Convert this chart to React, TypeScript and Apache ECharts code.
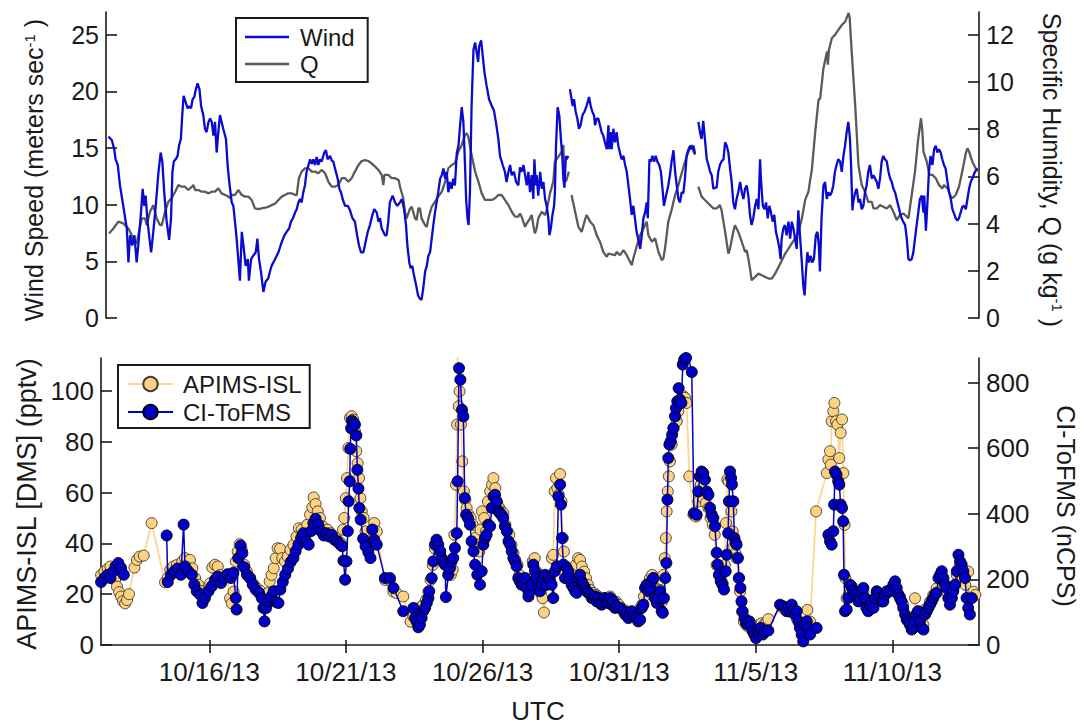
import React, { useEffect, useRef } from "react";
import * as echarts from "echarts";

// time axis: days since 10/12/13 00:00 UTC
const DAY0 = Date.UTC(2013, 9, 12);
const dateTicks = [4, 9, 14, 19, 24, 29];
const windTicks = [0, 5, 10, 15, 20, 25];
const qTicks = [0, 2, 4, 6, 8, 10, 12];
const dmsTicks = [0, 20, 40, 60, 80, 100];
const cpsTicks = [0, 200, 400, 600, 800];

type P = [number, number | null];

const wind: P[] = [[0.31,16.0],[0.43,15.7],[0.52,14.9],[0.57,14.0],[0.65,13.5],[0.73,11.7],[0.85,9.9],[0.98,7.9],[1.04,4.9],[1.10,7.3],[1.18,6.4],[1.26,7.3],[1.34,4.9],[1.40,6.4],[1.50,9.3],[1.56,11.4],[1.62,9.9],[1.67,10.8],[1.74,8.5],[1.81,7.0],[1.87,5.8],[1.95,7.6],[2.04,9.9],[2.14,12.9],[2.22,14.6],[2.28,13.8],[2.35,11.1],[2.44,8.5],[2.53,6.9],[2.60,8.8],[2.65,12.9],[2.70,13.8],[2.77,14.0],[2.84,14.3],[2.89,15.2],[2.96,15.8],[3.01,17.9],[3.06,19.6],[3.14,19.0],[3.21,18.5],[3.27,18.7],[3.33,18.5],[3.39,19.3],[3.45,19.5],[3.51,20.2],[3.57,20.7],[3.64,20.2],[3.70,18.7],[3.78,17.9],[3.84,16.7],[3.90,16.4],[3.97,17.3],[4.03,17.6],[4.09,17.3],[4.15,16.1],[4.21,17.3],[4.27,14.6],[4.33,16.4],[4.39,17.9],[4.45,17.3],[4.51,16.7],[4.61,15.8],[4.67,13.5],[4.73,12.0],[4.82,10.2],[4.88,9.9],[4.94,8.5],[5.00,7.0],[5.06,5.2],[5.12,3.3],[5.19,7.6],[5.25,6.4],[5.33,4.6],[5.41,5.2],[5.45,3.3],[5.53,5.2],[5.61,5.5],[5.70,5.8],[5.76,7.0],[5.82,5.2],[5.89,4.1],[5.98,2.3],[6.06,3.2],[6.16,3.5],[6.22,4.1],[6.28,4.6],[6.41,5.2],[6.53,5.8],[6.65,6.7],[6.75,7.3],[6.83,7.6],[6.92,7.9],[6.99,8.5],[7.06,8.8],[7.14,9.3],[7.20,9.6],[7.26,10.2],[7.32,10.5],[7.38,10.2],[7.44,11.1],[7.50,11.7],[7.56,12.9],[7.63,13.5],[7.69,14.0],[7.75,13.6],[7.81,14.0],[7.87,13.5],[7.93,14.2],[7.99,13.5],[8.05,14.0],[8.11,13.8],[8.21,14.6],[8.27,14.8],[8.33,14.0],[8.42,14.3],[8.48,13.9],[8.54,13.8],[8.60,13.2],[8.70,12.3],[8.76,11.4],[8.82,11.1],[8.88,10.5],[8.97,9.9],[9.07,9.9],[9.15,9.5],[9.24,8.8],[9.33,8.5],[9.41,7.3],[9.48,6.4],[9.55,5.8],[9.64,5.8],[9.72,6.7],[9.80,7.6],[9.88,8.2],[9.97,9.1],[10.04,9.6],[10.13,9.3],[10.19,8.5],[10.25,8.8],[10.31,7.9],[10.37,7.6],[10.43,7.3],[10.49,7.3],[10.55,8.5],[10.61,10.2],[10.71,10.8],[10.80,10.2],[10.88,9.9],[10.98,10.2],[11.05,10.5],[11.13,9.6],[11.20,8.2],[11.25,6.4],[11.32,4.9],[11.37,4.4],[11.43,4.6],[11.49,3.8],[11.57,2.9],[11.64,2.0],[11.71,1.7],[11.77,1.6],[11.83,2.6],[11.90,4.1],[11.96,4.6],[12.02,5.5],[12.08,5.8],[12.14,7.0],[12.20,8.2],[12.26,9.3],[12.32,10.2],[12.38,11.1],[12.45,12.3],[12.51,12.6],[12.57,13.2],[12.63,12.3],[12.69,12.9],[12.75,11.1],[12.81,12.0],[12.87,11.4],[12.93,12.3],[12.99,11.7],[13.06,14.6],[13.12,15.2],[13.18,17.0],[13.24,18.6],[13.30,17.3],[13.36,13.5],[13.40,10.5],[13.45,8.8],[13.49,8.2],[13.54,11.1],[13.60,18.7],[13.67,23.7],[13.73,24.3],[13.79,23.4],[13.84,22.6],[13.88,24.0],[13.95,24.5],[14.01,23.1],[14.07,21.7],[14.15,20.5],[14.24,19.3],[14.34,18.7],[14.42,18.3],[14.49,17.3],[14.58,15.8],[14.64,14.3],[14.74,13.5],[14.82,12.9],[14.88,12.0],[14.95,12.9],[15.01,13.5],[15.07,12.6],[15.15,12.9],[15.23,12.0],[15.31,11.7],[15.37,13.3],[15.43,12.9],[15.50,13.5],[15.56,12.6],[15.62,11.7],[15.68,12.9],[15.74,11.1],[15.80,12.6],[15.86,10.5],[15.90,14.0],[15.95,11.7],[15.98,12.6],[16.04,10.8],[16.11,12.9],[16.17,11.4],[16.23,12.0],[16.29,10.5],[16.35,9.9],[16.41,8.8],[16.45,7.3],[16.50,7.9],[16.56,9.1],[16.62,9.9],[16.65,11.1],[16.69,15.2],[16.75,18.6],[16.81,17.9],[16.87,15.8],[16.92,14.3],[16.96,12.3],[17.00,11.5],[17.05,14.3],[17.08,14.0],[17.14,14.3],[17.17,null],[17.20,20.2],[17.26,19.3],[17.30,18.7],[17.35,19.3],[17.41,18.2],[17.47,17.6],[17.53,16.7],[17.59,17.0],[17.66,17.9],[17.73,18.2],[17.81,18.7],[17.90,19.5],[17.96,18.7],[18.02,18.2],[18.08,17.9],[18.12,17.0],[18.18,17.6],[18.24,17.6],[18.30,17.0],[18.36,16.4],[18.42,16.1],[18.48,15.5],[18.55,14.9],[18.61,17.0],[18.64,14.9],[18.69,16.4],[18.73,14.9],[18.79,16.7],[18.85,15.5],[18.91,16.4],[18.97,15.2],[19.03,14.6],[19.09,14.0],[19.16,14.3],[19.22,13.5],[19.28,12.9],[19.34,11.7],[19.40,10.5],[19.46,9.1],[19.52,9.9],[19.58,8.8],[19.64,7.6],[19.70,7.0],[19.77,6.1],[19.83,7.3],[19.89,8.8],[19.95,9.3],[20.01,10.2],[20.05,8.8],[20.11,14.0],[20.16,13.8],[20.22,14.3],[20.28,13.8],[20.34,14.3],[20.40,13.8],[20.47,13.5],[20.53,12.9],[20.60,11.1],[20.64,9.9],[20.72,10.8],[20.80,11.7],[20.86,12.6],[20.92,13.8],[20.99,14.8],[21.05,12.9],[21.11,11.7],[21.17,10.5],[21.23,10.2],[21.29,11.1],[21.35,11.0],[21.41,12.3],[21.47,14.3],[21.54,14.9],[21.60,15.2],[21.66,14.9],[21.72,15.2],[21.78,14.5],[21.84,null],[21.90,17.3],[21.96,16.4],[22.02,15.8],[22.08,17.4],[22.14,15.8],[22.21,14.0],[22.27,13.5],[22.33,12.9],[22.39,12.6],[22.45,11.4],[22.51,11.5],[22.57,11.5],[22.63,12.9],[22.69,13.5],[22.75,13.8],[22.82,14.0],[22.88,15.5],[22.94,15.2],[23.00,14.6],[23.06,13.2],[23.12,12.0],[23.18,10.2],[23.24,9.6],[23.30,10.5],[23.36,11.1],[23.43,12.0],[23.49,11.1],[23.55,10.5],[23.61,11.4],[23.67,11.7],[23.73,10.8],[23.79,9.1],[23.85,8.2],[23.91,8.8],[23.98,9.9],[24.04,10.5],[24.10,9.6],[24.16,14.0],[24.19,12.3],[24.26,9.9],[24.32,9.6],[24.38,10.2],[24.44,8.8],[24.50,9.9],[24.56,9.3],[24.62,8.5],[24.68,9.1],[24.74,7.6],[24.80,7.0],[24.87,6.1],[24.91,5.2],[24.95,7.0],[25.01,7.9],[25.07,8.2],[25.13,7.3],[25.20,8.5],[25.26,7.0],[25.32,8.5],[25.38,7.9],[25.44,7.0],[25.50,6.1],[25.56,9.5],[25.62,7.3],[25.68,5.2],[25.74,2.9],[25.79,2.0],[25.84,4.1],[25.89,5.8],[25.95,4.9],[26.01,5.5],[26.07,4.9],[26.13,5.2],[26.20,7.3],[26.26,7.6],[26.31,6.4],[26.35,4.1],[26.41,8.8],[26.48,11.7],[26.54,12.0],[26.60,10.5],[26.66,11.1],[26.72,10.8],[26.78,11.1],[26.84,11.7],[26.90,12.9],[26.96,13.5],[27.02,14.0],[27.09,13.8],[27.15,12.9],[27.21,14.3],[27.27,15.2],[27.33,16.4],[27.39,17.3],[27.45,15.8],[27.49,13.5],[27.54,9.5],[27.57,10.2],[27.64,11.1],[27.70,11.4],[27.76,10.2],[27.82,10.5],[27.88,9.6],[27.94,9.9],[28.00,11.1],[28.06,11.7],[28.12,12.9],[28.18,13.5],[28.25,12.3],[28.31,12.6],[28.37,12.3],[28.43,12.0],[28.49,11.4],[28.55,12.3],[28.61,13.8],[28.67,14.3],[28.73,14.0],[28.80,13.8],[28.86,12.9],[28.92,12.3],[28.98,12.0],[29.04,11.4],[29.10,11.1],[29.16,10.5],[29.22,9.9],[29.28,9.3],[29.34,8.8],[29.40,8.5],[29.47,8.2],[29.53,7.0],[29.59,5.2],[29.65,5.1],[29.71,5.2],[29.77,5.8],[29.83,7.0],[29.89,8.2],[29.95,9.3],[30.01,10.5],[30.08,10.8],[30.14,9.3],[30.17,10.8],[30.23,7.7],[30.28,9.9],[30.34,12.9],[30.40,14.3],[30.47,13.5],[30.53,14.9],[30.59,15.2],[30.65,14.6],[30.71,14.9],[30.77,14.6],[30.83,14.0],[30.89,13.5],[30.95,13.2],[31.02,12.0],[31.08,11.1],[31.14,10.5],[31.20,9.6],[31.26,9.2],[31.32,8.8],[31.38,8.6],[31.44,8.8],[31.50,9.3],[31.56,9.8],[31.62,9.9],[31.69,9.6],[31.75,10.5],[31.81,11.4],[31.87,12.0],[31.93,12.3],[31.99,12.7],[32.05,13.0],[32.11,13.2]];

const q: P[] = [[0.33,3.58],[0.49,3.79],[0.67,4.08],[0.85,4.01],[1.04,3.79],[1.16,3.51],[1.28,3.16],[1.34,3.16],[1.40,3.51],[1.53,4.22],[1.65,4.22],[1.71,3.93],[1.83,4.50],[1.95,4.78],[2.07,4.22],[2.20,3.93],[2.26,3.93],[2.38,4.50],[2.50,4.92],[2.62,5.07],[2.75,5.35],[2.87,5.63],[2.99,5.56],[3.11,5.56],[3.23,5.42],[3.36,5.56],[3.42,5.63],[3.48,5.42],[3.60,5.42],[3.72,5.35],[3.84,5.35],[3.97,5.28],[4.09,5.35],[4.21,5.35],[4.33,5.49],[4.45,5.28],[4.58,5.21],[4.70,5.14],[4.76,5.07],[4.82,5.21],[4.94,5.21],[5.06,5.42],[5.19,5.21],[5.31,5.14],[5.43,5.14],[5.55,5.00],[5.67,4.64],[5.80,4.61],[5.92,4.64],[6.04,4.67],[6.16,4.71],[6.28,4.78],[6.41,4.85],[6.53,5.00],[6.65,5.14],[6.77,5.21],[6.89,5.28],[7.02,5.28],[7.14,5.21],[7.20,5.21],[7.28,5.92],[7.38,6.20],[7.50,6.34],[7.63,6.34],[7.75,6.20],[7.87,6.20],[7.99,6.13],[8.11,6.27],[8.24,6.13],[8.36,5.77],[8.48,5.56],[8.60,5.56],[8.72,5.63],[8.85,5.92],[8.97,5.92],[9.09,5.77],[9.21,5.92],[9.33,6.20],[9.46,6.48],[9.58,6.65],[9.70,6.69],[9.82,6.65],[9.94,6.55],[10.07,6.41],[10.19,6.27],[10.31,6.06],[10.37,5.63],[10.41,6.06],[10.55,6.06],[10.68,5.92],[10.80,5.92],[10.93,5.84],[10.98,5.56],[11.10,5.07],[11.16,4.50],[11.22,4.22],[11.35,4.64],[11.41,4.71],[11.53,4.22],[11.59,4.15],[11.65,4.64],[11.71,4.64],[11.77,4.22],[11.90,3.93],[11.96,3.86],[12.02,4.22],[12.14,4.71],[12.26,4.92],[12.38,5.14],[12.51,5.35],[12.63,5.77],[12.75,6.34],[12.87,6.48],[12.99,6.55],[13.12,7.05],[13.24,7.33],[13.36,7.75],[13.42,7.82],[13.48,7.68],[13.60,6.91],[13.73,6.20],[13.85,5.77],[13.97,5.28],[14.09,5.00],[14.21,5.00],[14.34,5.00],[14.46,5.07],[14.58,5.21],[14.70,5.21],[14.82,5.00],[14.95,4.78],[15.07,4.50],[15.19,4.29],[15.31,4.29],[15.37,4.43],[15.43,4.29],[15.56,3.86],[15.62,4.01],[15.74,4.22],[15.80,4.36],[15.86,3.93],[15.92,3.58],[15.98,3.79],[16.04,4.22],[16.17,4.50],[16.29,4.36],[16.35,4.57],[16.47,5.28],[16.59,5.77],[16.65,6.62],[16.78,6.83],[16.90,7.05],[16.96,7.33],[17.00,5.92],[17.05,5.77],[17.11,5.99],[17.16,6.20],[17.21,null],[17.26,5.21],[17.39,4.50],[17.51,3.86],[17.63,3.65],[17.75,4.15],[17.81,4.36],[17.94,4.08],[18.06,3.93],[18.18,3.51],[18.30,3.23],[18.42,2.80],[18.55,2.59],[18.61,2.73],[18.73,2.69],[18.85,2.66],[18.91,2.80],[19.03,2.66],[19.16,2.87],[19.28,2.66],[19.40,2.38],[19.46,2.24],[19.52,2.52],[19.64,3.02],[19.77,3.51],[19.89,3.79],[20.01,4.08],[20.07,3.51],[20.20,3.23],[20.32,3.37],[20.44,2.80],[20.56,2.45],[20.62,2.52],[20.68,2.94],[20.80,4.08],[20.92,4.57],[21.05,5.21],[21.17,5.63],[21.29,6.13],[21.41,6.62],[21.54,7.05],[21.66,7.33],[21.72,7.05],[21.78,6.91],[21.84,null],[21.90,5.56],[22.02,5.14],[22.14,5.00],[22.27,4.85],[22.39,4.71],[22.45,4.64],[22.57,4.64],[22.69,4.78],[22.75,4.57],[22.88,3.65],[23.00,2.73],[23.06,2.94],[23.18,3.65],[23.24,3.93],[23.36,3.65],[23.49,3.23],[23.61,2.80],[23.67,2.87],[23.73,2.52],[23.79,2.10],[23.85,1.60],[23.98,1.74],[24.10,1.88],[24.22,1.81],[24.35,1.74],[24.47,1.67],[24.59,1.67],[24.71,1.88],[24.84,2.17],[24.96,2.45],[25.08,2.73],[25.20,2.94],[25.32,3.16],[25.44,3.37],[25.57,3.65],[25.69,4.22],[25.81,5.00],[25.93,5.35],[26.06,6.34],[26.18,7.90],[26.30,9.24],[26.36,9.31],[26.48,10.58],[26.61,11.29],[26.64,10.73],[26.68,11.36],[26.79,11.86],[26.91,12.00],[27.03,12.21],[27.16,12.42],[27.28,12.56],[27.40,12.92],[27.44,12.71],[27.52,11.15],[27.64,9.03],[27.76,6.48],[27.88,5.63],[28.00,5.35],[28.12,4.92],[28.25,4.92],[28.31,4.64],[28.43,4.64],[28.55,4.78],[28.67,4.71],[28.80,4.64],[28.92,4.78],[29.04,4.50],[29.16,4.15],[29.28,4.36],[29.40,4.43],[29.53,4.29],[29.59,4.22],[29.71,5.21],[29.83,6.20],[29.95,7.61],[30.05,8.46],[30.10,7.90],[30.14,7.05],[30.26,6.62],[30.36,6.06],[30.47,6.06],[30.59,5.92],[30.71,5.63],[30.83,5.49],[30.89,5.63],[31.02,5.49],[31.14,5.14],[31.20,5.07],[31.32,5.21],[31.44,5.56],[31.56,6.20],[31.69,6.98],[31.75,7.19],[31.81,7.05],[31.93,6.62],[32.05,6.34],[32.17,6.20]];

const apims: P[] = [[0.04,27.6],[0.16,28.9],[0.28,30.0],[0.38,30.9],[0.46,27.6],[0.55,25.6],[0.62,23.0],[0.70,20.8],[0.77,19.1],[0.84,17.3],[0.92,16.4],[0.99,17.7],[1.06,20.0],[1.26,30.5],[1.35,33.5],[1.45,34.8],[1.60,35.2],[1.89,48.0],[2.38,24.7],[2.48,26.3],[2.57,29.6],[2.68,30.9],[2.81,31.5],[2.93,30.9],[3.01,32.9],[3.11,34.2],[3.29,33.5],[3.38,30.2],[3.48,26.3],[3.60,23.7],[3.70,21.3],[3.79,18.4],[3.90,21.0],[4.03,24.3],[4.11,30.5],[4.21,31.6],[4.31,30.9],[4.40,27.6],[4.51,26.3],[4.64,27.6],[4.76,18.4],[4.82,16.4],[4.89,21.0],[4.97,32.9],[5.04,36.8],[5.11,39.7],[5.19,37.5],[5.28,31.6],[5.38,28.9],[5.50,26.3],[5.62,23.9],[5.75,22.3],[5.87,21.3],[5.98,18.4],[6.06,15.8],[6.14,20.4],[6.21,25.0],[6.28,27.6],[6.36,30.2],[6.43,34.2],[6.50,38.1],[6.59,37.9],[6.67,34.2],[6.77,32.9],[6.87,34.8],[6.97,37.5],[7.08,39.4],[7.19,42.7],[7.28,46.0],[7.38,45.4],[7.48,43.4],[7.58,47.3],[7.69,51.3],[7.77,54.2],[7.82,58.1],[7.89,55.5],[7.97,52.6],[8.05,50.0],[8.15,46.7],[8.24,44.7],[8.33,45.4],[8.43,44.0],[8.53,42.7],[8.63,42.1],[8.72,40.8],[8.82,40.1],[8.89,45.4],[8.94,50.0],[9.00,57.8],[9.04,65.7],[9.09,77.6],[9.15,89.4],[9.21,90.1],[9.27,88.8],[9.33,84.2],[9.38,76.3],[9.43,71.6],[9.48,65.7],[9.53,57.8],[9.58,52.6],[9.65,50.0],[9.72,44.7],[9.80,40.8],[9.88,38.8],[9.97,45.4],[10.04,48.0],[10.13,44.7],[10.43,25.6],[10.61,25.6],[10.74,21.0],[10.86,20.4],[11.10,19.1],[11.37,9.2],[11.47,11.2],[11.57,13.1],[11.65,14.4],[11.74,13.1],[11.83,15.8],[11.93,17.7],[12.02,21.0],[12.10,25.6],[12.18,31.5],[12.26,37.9],[12.35,39.4],[12.45,36.8],[12.54,33.5],[12.63,31.6],[12.75,27.6],[12.84,27.6],[12.91,29.6],[12.97,43.4],[13.03,63.1],[13.07,86.8],[13.09,113.7],[13.13,94.0],[13.16,99.9],[13.21,86.8],[13.26,72.3],[13.32,60.5],[13.37,57.2],[13.42,53.9],[13.49,51.3],[13.57,50.0],[13.64,47.3],[13.73,42.1],[13.81,39.4],[13.88,36.8],[13.93,45.4],[13.98,52.6],[14.06,50.0],[14.13,44.7],[14.20,56.5],[14.28,60.5],[14.35,63.1],[14.40,65.7],[14.47,61.8],[14.54,55.9],[14.62,53.9],[14.69,52.6],[14.76,51.9],[14.84,47.3],[14.91,44.7],[14.98,43.4],[15.06,39.4],[15.13,36.1],[15.20,33.5],[15.28,31.6],[15.35,27.6],[15.43,25.6],[15.52,26.3],[15.59,24.3],[15.68,21.0],[15.76,23.0],[15.84,32.9],[15.91,34.2],[15.98,28.9],[16.06,25.0],[16.13,20.4],[16.20,18.4],[16.25,12.8],[16.33,23.7],[16.40,26.3],[16.47,26.9],[16.54,34.2],[16.59,35.5],[16.64,60.5],[16.69,65.7],[16.74,61.8],[16.79,59.2],[16.84,67.3],[16.89,56.5],[16.94,42.1],[16.98,36.8],[17.06,30.9],[17.13,30.2],[17.20,27.6],[17.28,26.3],[17.35,28.9],[17.42,31.6],[17.50,34.2],[17.57,33.5],[17.64,30.9],[17.72,28.9],[17.79,26.3],[17.86,23.7],[17.94,21.7],[18.01,20.4],[18.08,20.4],[18.16,19.7],[18.23,19.1],[18.30,18.4],[18.37,17.7],[18.45,18.4],[18.52,18.4],[18.59,17.7],[18.67,19.1],[18.74,17.7],[18.81,16.4],[18.89,17.1],[18.99,15.8],[19.08,14.5],[19.18,13.8],[19.28,13.1],[19.37,12.5],[19.47,12.5],[19.57,11.6],[19.67,13.1],[19.77,14.5],[19.84,15.8],[19.91,19.1],[19.99,22.3],[20.06,23.7],[20.13,26.3],[20.21,27.6],[20.28,26.3],[20.35,22.3],[20.42,21.0],[20.50,21.7],[20.57,17.1],[20.62,27.6],[20.67,34.2],[20.71,42.1],[20.74,52.6],[20.78,60.5],[20.82,66.4],[20.86,72.3],[20.92,78.9],[20.99,85.5],[21.05,90.1],[21.11,88.1],[21.17,92.0],[21.23,96.0],[21.29,97.3],[21.35,98.0],[21.41,97.3],[21.47,95.3],[21.57,66.4],[21.72,51.3],[21.82,50.6],[21.90,56.5],[21.99,63.1],[22.08,57.8],[22.18,55.9],[22.27,53.9],[22.35,50.0],[22.43,47.3],[22.50,43.4],[22.57,31.5],[22.65,27.6],[22.72,26.3],[22.79,24.3],[22.87,31.5],[22.91,48.0],[22.96,65.1],[23.01,64.4],[23.06,56.5],[23.11,52.6],[23.16,44.7],[23.21,38.8],[23.26,36.1],[23.30,34.2],[23.38,26.3],[23.43,21.0],[23.50,13.1],[23.57,9.2],[23.65,7.9],[23.73,7.2],[23.82,7.9],[23.91,7.2],[24.01,6.6],[24.11,7.9],[24.21,8.5],[24.30,7.9],[24.40,9.2],[24.46,10.2],[25.01,14.5],[25.26,13.1],[25.50,10.5],[25.62,7.9],[25.72,3.9],[25.80,8.5],[25.89,13.8],[25.99,9.2],[26.21,52.6],[26.60,67.7],[26.66,73.0],[26.72,76.3],[26.75,71.0],[26.78,88.1],[26.84,92.0],[26.88,95.3],[26.94,88.1],[26.99,86.8],[27.06,73.6],[27.11,83.5],[27.16,88.8],[27.21,67.7],[27.25,47.3],[27.28,26.3],[27.33,18.4],[27.40,19.7],[27.48,20.4],[27.57,21.7],[27.70,20.4],[27.82,18.4],[27.94,21.0],[28.06,14.5],[28.18,16.4],[28.31,15.8],[28.43,20.4],[28.55,19.7],[28.67,18.4],[28.80,20.4],[28.92,21.7],[29.04,23.0],[29.16,21.0],[29.28,19.1],[29.40,15.8],[29.53,10.5],[29.65,7.9],[29.77,7.2],[29.83,18.4],[29.92,13.1],[30.01,10.5],[30.14,7.9],[30.26,14.5],[30.38,17.1],[30.50,19.7],[30.62,22.3],[30.75,26.3],[30.87,25.0],[30.99,21.0],[31.11,18.4],[31.23,21.7],[31.36,27.6],[31.48,31.5],[31.58,26.3],[31.67,23.7],[31.78,28.9],[31.87,18.4],[31.97,21.0],[32.04,19.7]];

const citofms: P[] = [[0.04,192],[0.16,204],[0.28,214],[0.38,204],[0.49,225],[0.57,240],[0.67,250],[0.77,235],[0.87,214],[1.5,null],[2.44,334],[2.48,192],[2.60,214],[2.72,225],[2.84,233],[2.96,214],[3.06,367],[3.11,240],[3.23,225],[3.36,214],[3.45,184],[3.54,164],[3.66,154],[3.75,128],[3.84,143],[3.97,164],[4.09,179],[4.21,199],[4.31,209],[4.43,189],[4.55,204],[4.67,216],[4.79,204],[4.88,220],[4.97,143],[5.00,108],[5.06,265],[5.15,303],[5.21,280],[5.28,237],[5.38,214],[5.49,204],[5.59,184],[5.70,169],[5.82,159],[5.92,143],[5.98,113],[6.02,72],[6.08,113],[6.16,133],[6.26,148],[6.36,164],[6.44,131],[6.53,128],[6.60,169],[6.69,192],[6.78,214],[6.88,233],[6.98,253],[7.08,265],[7.16,286],[7.26,306],[7.36,326],[7.44,341],[7.54,316],[7.64,306],[7.72,347],[7.81,372],[7.89,385],[7.99,367],[8.09,347],[8.19,334],[8.28,341],[8.38,331],[8.48,336],[8.58,321],[8.68,316],[8.77,308],[8.86,301],[8.91,257],[8.97,199],[9.02,255],[9.07,347],[9.10,438],[9.14,499],[9.16,598],[9.19,661],[9.22,684],[9.29,677],[9.33,672],[9.38,639],[9.42,534],[9.46,477],[9.49,418],[9.54,382],[9.63,324],[9.72,301],[9.82,283],[9.90,265],[9.97,352],[10.04,321],[10.13,306],[10.43,204],[10.61,204],[10.74,174],[11.10,103],[11.47,113],[11.53,82],[11.59,72],[11.65,54],[11.71,62],[11.77,82],[11.83,103],[11.90,113],[11.96,128],[12.02,143],[12.05,164],[12.14,204],[12.20,255],[12.26,306],[12.32,321],[12.38,306],[12.45,286],[12.51,265],[12.57,255],[12.63,245],[12.66,146],[12.75,214],[12.81,235],[12.87,255],[12.93,265],[12.99,296],[13.06,341],[13.09,499],[13.14,844],[13.19,809],[13.25,717],[13.30,697],[13.35,448],[13.40,397],[13.47,387],[13.54,367],[13.60,316],[13.67,286],[13.73,245],[13.81,214],[13.91,184],[13.97,225],[14.03,306],[14.09,326],[14.15,336],[14.21,367],[14.28,362],[14.34,418],[14.40,453],[14.46,458],[14.52,438],[14.58,408],[14.64,402],[14.70,397],[14.76,387],[14.82,362],[14.89,347],[14.95,316],[15.01,306],[15.07,286],[15.13,265],[15.19,255],[15.25,240],[15.31,204],[15.37,194],[15.43,184],[15.50,189],[15.56,204],[15.62,174],[15.68,148],[15.74,164],[15.80,184],[15.86,245],[15.92,225],[15.98,204],[16.04,184],[16.11,164],[16.17,184],[16.23,204],[16.29,214],[16.35,184],[16.41,204],[16.47,194],[16.53,184],[16.59,143],[16.65,225],[16.72,240],[16.78,453],[16.84,489],[16.87,428],[16.91,326],[16.96,245],[17.02,204],[17.08,235],[17.14,225],[17.20,204],[17.26,184],[17.33,174],[17.39,164],[17.45,159],[17.51,204],[17.57,214],[17.63,194],[17.69,184],[17.75,174],[17.81,164],[17.87,159],[17.94,154],[18.00,143],[18.06,143],[18.12,148],[18.18,133],[18.24,143],[18.30,128],[18.36,123],[18.42,133],[18.48,143],[18.55,133],[18.61,128],[18.67,143],[18.73,123],[18.79,133],[18.85,113],[18.91,118],[19.03,113],[19.16,103],[19.22,93],[19.28,98],[19.34,82],[19.40,93],[19.46,103],[19.52,87],[19.64,82],[19.70,72],[19.77,77],[19.83,113],[19.89,123],[19.95,174],[20.01,184],[20.07,164],[20.13,174],[20.19,194],[20.25,204],[20.31,143],[20.38,128],[20.44,143],[20.50,164],[20.56,103],[20.60,98],[20.64,143],[20.69,204],[20.73,250],[20.77,443],[20.80,570],[20.84,611],[20.89,621],[20.94,641],[20.99,661],[21.05,697],[21.08,722],[21.13,743],[21.18,783],[21.23,748],[21.28,738],[21.33,855],[21.38,870],[21.45,875],[21.51,880],[21.54,877],[21.66,832],[21.74,402],[21.84,397],[21.90,468],[21.96,514],[22.02,529],[22.08,524],[22.14,504],[22.21,468],[22.27,458],[22.33,418],[22.39,397],[22.45,387],[22.51,362],[22.57,281],[22.61,245],[22.66,214],[22.72,194],[22.78,184],[22.84,169],[22.90,225],[22.94,275],[22.99,341],[23.02,438],[23.06,529],[23.10,509],[23.13,489],[23.18,438],[23.22,326],[23.27,311],[23.30,306],[23.35,265],[23.39,204],[23.44,174],[23.48,133],[23.52,103],[23.59,82],[23.65,67],[23.71,62],[23.77,72],[23.83,57],[23.89,42],[23.95,32],[24.01,21],[24.07,40],[24.13,32],[24.19,52],[24.26,32],[24.34,42],[24.46,44],[24.89,123],[25.01,118],[25.13,103],[25.20,113],[25.26,103],[25.32,123],[25.38,108],[25.44,93],[25.50,103],[25.56,72],[25.62,52],[25.68,32],[25.74,11],[25.80,62],[25.87,72],[25.93,52],[25.99,32],[26.1,null],[26.23,52],[26.4,null],[26.66,336],[26.72,316],[26.78,306],[26.84,347],[26.87,428],[26.90,529],[26.96,519],[27.02,499],[27.06,489],[27.11,428],[27.16,418],[27.20,377],[27.23,214],[27.27,103],[27.33,108],[27.39,143],[27.45,184],[27.51,179],[27.57,164],[27.64,154],[27.70,143],[27.76,133],[27.82,143],[27.88,159],[27.94,174],[28.00,143],[28.06,113],[28.12,103],[28.18,123],[28.25,133],[28.31,113],[28.37,143],[28.43,164],[28.49,159],[28.55,143],[28.61,133],[28.67,133],[28.73,154],[28.80,164],[28.92,164],[29.04,184],[29.10,194],[29.16,174],[29.22,154],[29.28,143],[29.34,133],[29.40,113],[29.47,93],[29.53,77],[29.59,72],[29.65,62],[29.71,47],[29.77,52],[29.83,72],[29.89,93],[29.95,103],[30.01,72],[30.08,52],[30.14,47],[30.20,93],[30.26,103],[30.32,113],[30.38,123],[30.44,133],[30.50,143],[30.56,154],[30.62,159],[30.69,204],[30.75,214],[30.81,225],[30.87,204],[30.93,184],[30.99,174],[31.05,143],[31.11,123],[31.18,143],[31.23,164],[31.30,184],[31.36,225],[31.42,275],[31.48,255],[31.54,245],[31.60,225],[31.66,204],[31.72,143],[31.78,113],[31.84,93],[31.91,143]];

const FONT = "'Liberation Sans', Arial, Helvetica, sans-serif";
const INK = "#1a1a1a";
const WIND_BLUE = "#0a0ad0";
const Q_GRAY = "#5a5a5a";
const APIMS_FILL = "#ffd27f";
const APIMS_LINE = "#ffd690";
const CI_BLUE = "#0000c8";

const toSeries = (arr: P[]) => arr.map(([t, v]) => [t, v === null ? "-" : v]);

const fmtDate = (v: number) => {
  const d = new Date(DAY0 + Math.round(v * 86400000));
  return `${d.getUTCMonth() + 1}/${d.getUTCDate()}/13`;
};

function yAxisBase(grid: number, pos: "left" | "right", max: number, ticks: number[], fs: number) {
  return {
    type: "value",
    gridIndex: grid,
    position: pos,
    min: 0,
    max,
    splitLine: { show: false },
    axisLine: { show: true, onZero: false, lineStyle: { color: INK, width: 1.6 } },
    axisTick: { show: true, inside: true, length: 11, customValues: ticks, lineStyle: { color: INK, width: 1.6 } },
    axisLabel: {
      show: true,
      customValues: ticks,
      color: INK,
      fontSize: fs,
      fontFamily: FONT,
      margin: 7,
    },
  };
}

export default function App() {
  const ref = useRef<HTMLDivElement>(null);
  useEffect(() => {
    if (!ref.current) return;
    const chart = echarts.init(ref.current, null, { renderer: "svg" });
    const topMin = 0.219;
    const botMin = 0.036;
    const xMax = 32.173;
    const option: any = {
      animation: false,
      backgroundColor: "#ffffff",
      textStyle: { fontFamily: FONT },
      grid: [
        { left: 106, top: 12, width: 873, height: 306, containLabel: false },
        { left: 101, top: 358, width: 878, height: 287, containLabel: false },
      ],
      xAxis: [
        {
          type: "value", gridIndex: 0, min: topMin, max: xMax,
          axisLine: { show: false }, axisTick: { show: false }, axisLabel: { show: false }, splitLine: { show: false },
        },
        {
          type: "value", gridIndex: 1, min: botMin, max: xMax, position: "bottom",
          splitLine: { show: false },
          axisLine: { show: true, onZero: false, lineStyle: { color: INK, width: 1.6 } },
          axisTick: { show: true, inside: false, length: 8, customValues: dateTicks, lineStyle: { color: INK, width: 1.6 } },
          axisLabel: {
            show: true, customValues: dateTicks, formatter: fmtDate,
            color: INK, fontSize: 26, fontFamily: FONT, margin: 14,
          },
        },
        {
          type: "value", gridIndex: 1, min: botMin, max: xMax, position: "top", offset: -287,
          splitLine: { show: false },
          axisLine: { show: false, onZero: false },
          axisTick: { show: true, inside: false, length: 5, customValues: dateTicks, lineStyle: { color: INK, width: 1.6 } },
          axisLabel: { show: false },
        },
      ],
      yAxis: [
        yAxisBase(0, "left", 27, windTicks, 25),
        yAxisBase(0, "right", 12.96, qTicks, 25),
        yAxisBase(1, "left", 113, dmsTicks, 26),
        yAxisBase(1, "right", 875, cpsTicks, 26),
      ],
      legend: [
        {
          data: [{ name: "Wind", icon: "rect" }, { name: "Q", icon: "rect" }],
          orient: "vertical",
          left: 236,
          top: 18,
          padding: [7, 13, 6, 9],
          itemGap: 3,
          itemWidth: 44,
          itemHeight: 2.5,
          borderColor: INK,
          borderWidth: 2,
          backgroundColor: "#fff",
          textStyle: { fontSize: 24, color: INK, fontFamily: FONT, padding: [0, 0, 0, 6] },
        },
        {
          data: ["APIMS-ISL", "CI-ToFMS"],
          orient: "vertical",
          left: 118,
          top: 365,
          padding: [7, 8, 4, 9],
          itemGap: 4,
          itemWidth: 45,
          itemHeight: 18,
          borderColor: INK,
          borderWidth: 2,
          backgroundColor: "#fff",
          textStyle: { fontSize: 24, color: INK, fontFamily: FONT, padding: [0, 0, 0, 5] },
        },
      ],
      graphic: [
        {
          type: "text", x: 34, y: 170, rotation: Math.PI / 2,
          style: {
            text: "{a|Wind Speed (meters sec}{s|-1}{a| )}",
            rich: {
              a: { fontSize: 25, fontFamily: FONT, fill: INK },
              s: { fontSize: 15, fontFamily: FONT, fill: INK, verticalAlign: "top" },
            },
            align: "center", verticalAlign: "middle",
          },
        },
        {
          type: "text", x: 1052, y: 170, rotation: -Math.PI / 2,
          style: {
            text: "{a|Specific Humidity, Q (g kg}{s|-1}{a| )}",
            rich: {
              a: { fontSize: 25, fontFamily: FONT, fill: INK },
              s: { fontSize: 15, fontFamily: FONT, fill: INK, verticalAlign: "top" },
            },
            align: "center", verticalAlign: "middle",
          },
        },
        {
          type: "text", x: 27, y: 504, rotation: Math.PI / 2,
          style: { text: "APIMS-ISL [DMS] (pptv)", fontSize: 27, fontFamily: FONT, fill: INK, align: "center", verticalAlign: "middle" },
        },
        {
          type: "text", x: 1066, y: 506, rotation: -Math.PI / 2,
          style: { text: "CI-ToFMS (nCPS)", fontSize: 25, fontFamily: FONT, fill: INK, align: "center", verticalAlign: "middle" },
        },
        {
          type: "text", x: 538, y: 711,
          style: { text: "UTC", fontSize: 26, fontFamily: FONT, fill: INK, align: "center", verticalAlign: "middle" },
        },
      ],
      series: [
        {
          name: "Q", type: "line", xAxisIndex: 0, yAxisIndex: 1,
          data: toSeries(q), symbol: "none", connectNulls: false,
          lineStyle: { color: Q_GRAY, width: 2.3 }, itemStyle: { color: Q_GRAY }, z: 2,
        },
        {
          name: "Wind", type: "line", xAxisIndex: 0, yAxisIndex: 0,
          data: toSeries(wind), symbol: "none", connectNulls: false,
          lineStyle: { color: WIND_BLUE, width: 2.3 }, itemStyle: { color: WIND_BLUE }, z: 3,
        },
        {
          name: "APIMS-ISL", type: "line", xAxisIndex: 1, yAxisIndex: 2,
          data: toSeries(apims), symbol: "circle", symbolSize: 11, showSymbol: true, connectNulls: false,
          lineStyle: { color: APIMS_LINE, width: 1.8 },
          itemStyle: { color: APIMS_FILL, borderColor: "#3a3a3a", borderWidth: 0.9 },
          z: 4,
        },
        {
          name: "CI-ToFMS", type: "line", xAxisIndex: 1, yAxisIndex: 3,
          data: toSeries(citofms), symbol: "circle", symbolSize: 11, showSymbol: true, connectNulls: false,
          lineStyle: { color: CI_BLUE, width: 1.5 },
          itemStyle: { color: CI_BLUE, borderColor: "#000000", borderWidth: 0.9 },
          z: 5,
        },
      ],
    };
    chart.setOption(option);
    return () => chart.dispose();
  }, []);
  return (
    <div
      ref={ref}
      style={{ position: "absolute", left: 0, top: 0, width: 1083, height: 725, background: "#fff" }}
    />
  );
}
